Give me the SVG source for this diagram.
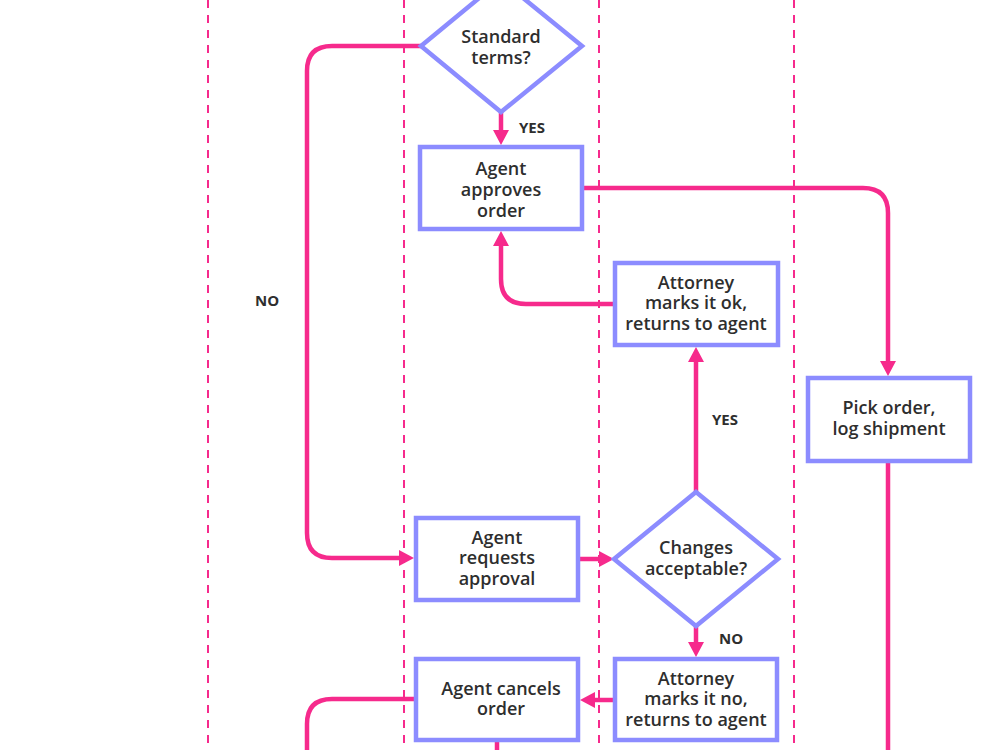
<svg xmlns="http://www.w3.org/2000/svg" width="1000" height="750" viewBox="0 0 1000 750">
<style>
.lane{stroke:#f62a8c;stroke-width:2;stroke-dasharray:8 7;fill:none}
.node{fill:#fff;stroke:#8c8cff;stroke-width:4.5}
.con{fill:none;stroke:#f62a8c;stroke-width:4.5}
.t{font-family:"Open Sans","Noto Sans",sans-serif;font-weight:600;font-size:18px;fill:#2e2e2e;text-anchor:middle}
.lbl{font-family:"Open Sans","Noto Sans",sans-serif;font-weight:700;font-size:15px;fill:#2e2e2e}
</style>
<defs>
<marker id="ah" viewBox="0 0 15 16" refX="7" refY="8" markerWidth="15" markerHeight="16" markerUnits="userSpaceOnUse" orient="auto">
<path d="M0,0 L15,8 L0,16 Z" fill="#f62a8c"/>
</marker>
</defs>
<rect width="1000" height="750" fill="#fff"/>
<g id="lanes">
<line class="lane" x1="208" y1="0" x2="208" y2="750"/>
<line class="lane" x1="404" y1="0" x2="404" y2="750"/>
<line class="lane" x1="599" y1="0" x2="599" y2="750"/>
<line class="lane" x1="794" y1="0" x2="794" y2="750"/>
</g>
<g id="connectors">
<path class="con" d="M421,46 H332 Q307,46 307,71 V533 Q307,558 332,558 H406" marker-end="url(#ah)"/>
<path class="con" d="M501,112 V137" marker-end="url(#ah)"/>
<path class="con" d="M583,188 H863 Q888,188 888,213 V368" marker-end="url(#ah)"/>
<path class="con" d="M888,463 V750"/>
<path class="con" d="M613,304 H526 Q501,304 501,279 V239" marker-end="url(#ah)"/>
<path class="con" d="M696,492 V355" marker-end="url(#ah)"/>
<path class="con" d="M580,559 H606" marker-end="url(#ah)"/>
<path class="con" d="M696,626 V649" marker-end="url(#ah)"/>
<path class="con" d="M613,700 H588" marker-end="url(#ah)"/>
<path class="con" d="M414,699 H332 Q307,699 307,724 V750"/>
<path class="con" d="M497,742 V750"/>
<text class="lbl" x="519" y="133">YES</text>
<text class="lbl" x="255" y="306">NO</text>
<text class="lbl" x="712" y="425">YES</text>
<text class="lbl" x="719" y="644">NO</text>
</g>
<g id="standard-terms">
<polygon class="node" points="501,-20 582,46 501,112 421,46"/>
<text class="t" x="501" y="43">Standard</text>
<text class="t" x="501" y="64">terms?</text>
</g>
<g id="agent-approves">
<rect class="node" x="420" y="147" width="162" height="82"/>
<text class="t" x="501" y="175">Agent</text>
<text class="t" x="501" y="196">approves</text>
<text class="t" x="501" y="217">order</text>
</g>
<g id="attorney-ok">
<rect class="node" x="615" y="263" width="163" height="82"/>
<text class="t" x="696" y="289">Attorney</text>
<text class="t" x="696" y="309">marks it ok,</text>
<text class="t" x="696" y="330">returns to agent</text>
</g>
<g id="pick-order">
<rect class="node" x="808" y="378" width="162" height="83"/>
<text class="t" x="889" y="414">Pick order,</text>
<text class="t" x="889" y="435">log shipment</text>
</g>
<g id="agent-requests">
<rect class="node" x="416" y="518" width="162" height="82"/>
<text class="t" x="497" y="544">Agent</text>
<text class="t" x="497" y="564">requests</text>
<text class="t" x="497" y="585">approval</text>
</g>
<g id="changes-acceptable">
<polygon class="node" points="696,492 778,559 696,626 614,559"/>
<text class="t" x="696" y="554">Changes</text>
<text class="t" x="696" y="575">acceptable?</text>
</g>
<g id="attorney-no">
<rect class="node" x="615" y="659" width="162" height="81"/>
<text class="t" x="696" y="685">Attorney</text>
<text class="t" x="696" y="705">marks it no,</text>
<text class="t" x="696" y="726">returns to agent</text>
</g>
<g id="agent-cancels">
<rect class="node" x="416" y="659" width="162" height="81"/>
<text class="t" x="501" y="695">Agent cancels</text>
<text class="t" x="501" y="715">order</text>
</g>
</svg>
